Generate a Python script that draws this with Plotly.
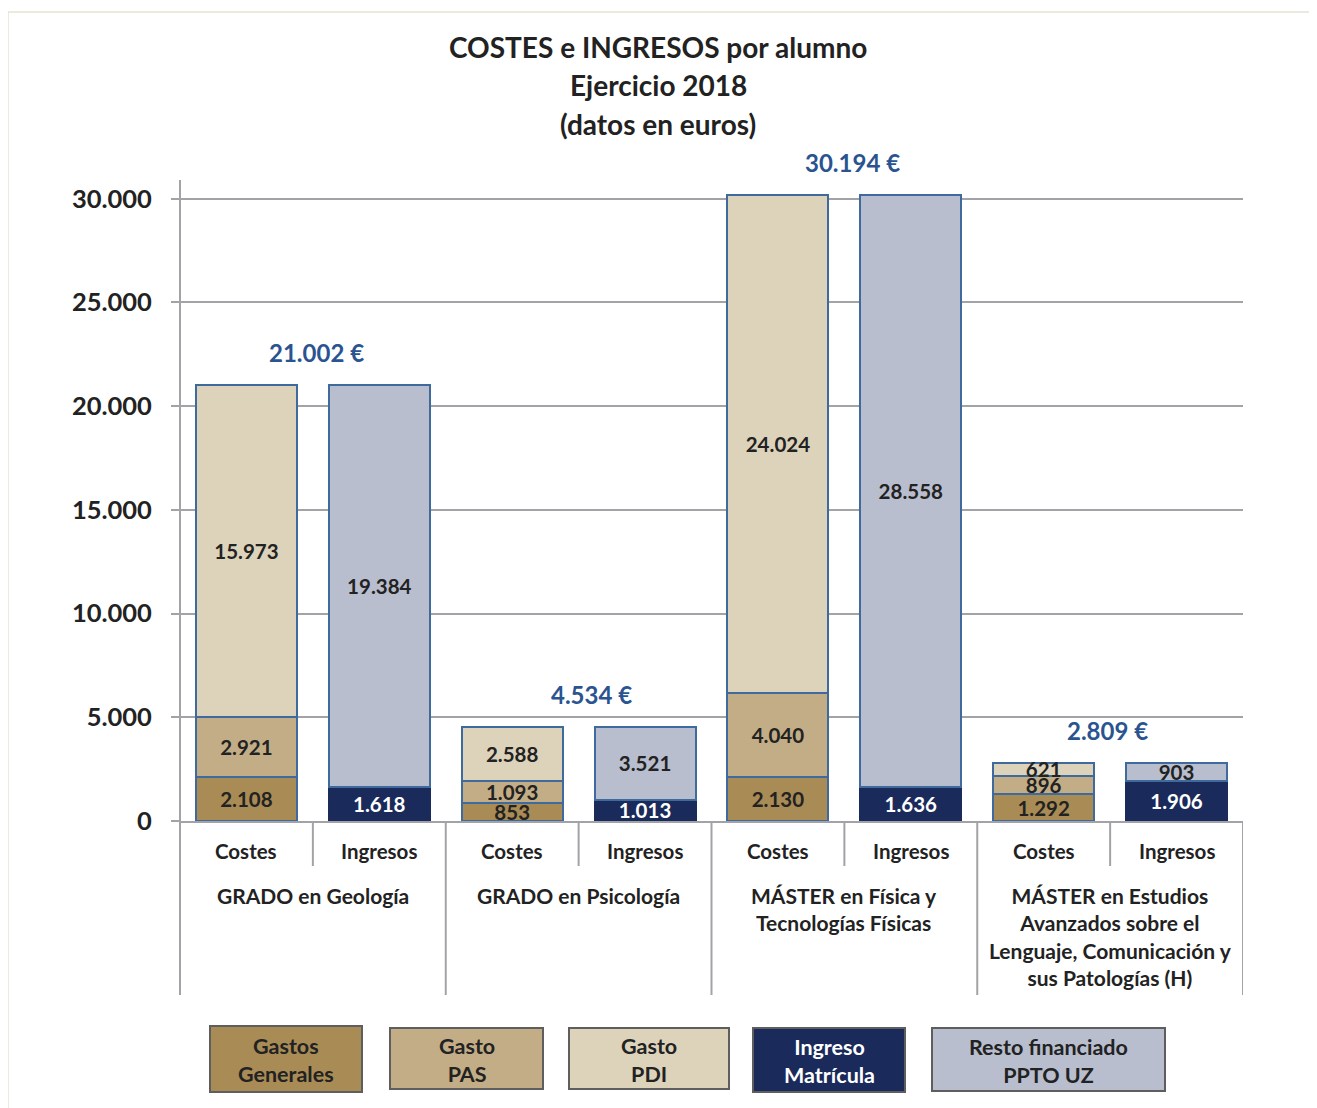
import plotly.graph_objects as go

# ---------------- data ----------------
groups = ["GRADO en Geología", "GRADO en Psicología",
          "MÁSTER en Física y<br>Tecnologías Físicas",
          "MÁSTER en Estudios<br>Avanzados sobre el<br>Lenguaje, Comunicación y<br>sus Patologías (H)"]
bar_labels = ["Costes", "Ingresos"] * 4
costes_x = [0, 2, 4, 6]
ingresos_x = [1, 3, 5, 7]
gastos_generales = [2108, 853, 2130, 1292]
gasto_pas = [2921, 1093, 4040, 896]
gasto_pdi = [15973, 2588, 24024, 621]
ingreso_matricula = [1618, 1013, 1636, 1906]
resto_ppto = [19384, 3521, 28558, 903]
totals = [21002, 4534, 30194, 2809]
y_ticks = [0, 5000, 10000, 15000, 20000, 25000, 30000]

FONT = "Lato"
DARK = "#222222"
C_GG = "#A98B55"
C_PAS = "#C3AD86"
C_PDI = "#DDD3BB"
C_MAT = "#1A2A5A"
C_RES = "#B8BECE"
EDGE = "#3E6A9E"
GRID = "#A3A3A7"
BLUE_TXT = "#2A5490"

OFF = 8  # page body offset
W, H = 1317, 1108
# plot-area geometry in screen pixels
PL, PR, PT, PB = 180, 1243, 180, 821


def px(xp):
    return (xp - PL) / (PR - PL)


def py(yp):
    return (PB - yp) / (PB - PT)


fig = go.Figure()


def add_bar(x, y, color, edge, txtcolor, name, size=20.5):
    fig.add_trace(go.Bar(
        x=x, y=y, name=name, width=0.76,
        marker=dict(color=color, line=dict(color=edge, width=2)),
        texttemplate="%{y:,d}", textposition="inside", insidetextanchor="middle",
        constraintext="none",
        textfont=dict(family=FONT, size=size, color=txtcolor, weight="bold"),
        hoverinfo="skip", showlegend=False))


add_bar(costes_x, gastos_generales, C_GG, EDGE, DARK, "Gastos Generales")
add_bar(costes_x, gasto_pas, C_PAS, EDGE, DARK, "Gasto PAS")
add_bar(costes_x, gasto_pdi, C_PDI, EDGE, DARK, "Gasto PDI")
add_bar(ingresos_x, ingreso_matricula, C_MAT, C_MAT, "white", "Ingreso Matrícula")
add_bar(ingresos_x, resto_ppto, C_RES, EDGE, DARK, "Resto financiado PPTO UZ")

annotations = []
# totals
tot_dx = [0.03, 0.1, 0.06, -0.02]
for i, t in enumerate(totals):
    s = f"{t:,}".replace(",", ".") + " €"
    annotations.append(dict(x=2 * i + 0.5 + tot_dx[i], y=t, xref="x", yref="y", text=s,
                            showarrow=False, yanchor="bottom", yshift=16,
                            font=dict(family=FONT, size=24, color=BLUE_TXT, weight="bold")))
# category labels
for i, lab in enumerate(bar_labels):
    annotations.append(dict(x=i, y=py(851), xref="x", yref="paper", text=lab,
                            showarrow=False, yanchor="middle",
                            font=dict(family=FONT, size=20.5, color=DARK, weight="bold")))
# group labels
for i, g in enumerate(groups):
    annotations.append(dict(x=2 * i + 0.5, y=py(881), xref="x", yref="paper", text=g,
                            showarrow=False, yanchor="top", align="center",
                            font=dict(family=FONT, size=21, color=DARK, weight="bold")))
# title
for txt, yp in [("COSTES e INGRESOS por alumno", 47), ("Ejercicio 2018", 85),
                ("(datos en euros)", 124)]:
    annotations.append(dict(x=px(658), xref="paper", y=py(yp), yref="paper", text=txt,
                            showarrow=False, yanchor="middle", xanchor="center",
                            font=dict(family=FONT, size=28, color=DARK, weight="bold")))

shapes = []
# outer border
shapes.append(dict(type="rect", xref="paper", yref="paper", x0=px(8), x1=px(1340),
                   y0=py(1130), y1=py(12), line=dict(color="#E6E2D2", width=1.5),
                   layer="below"))
# y-axis line extended down
shapes.append(dict(type="line", xref="paper", yref="paper", x0=0, x1=0,
                   y0=py(995), y1=1, line=dict(color=GRID, width=2)))
# dividers
for b in [1.5, 3.5, 5.5, 7.5]:
    shapes.append(dict(type="line", xref="x", yref="paper", x0=b, x1=b,
                       y0=py(995), y1=0, line=dict(color=GRID, width=2)))
for b in [0.5, 2.5, 4.5, 6.5]:
    shapes.append(dict(type="line", xref="x", yref="paper", x0=b, x1=b,
                       y0=py(866), y1=0, line=dict(color=GRID, width=2)))

# legend boxes
legend_items = [
    ("Gastos<br>Generales", C_GG, DARK, 210, 362, 1026, 1092),
    ("Gasto<br>PAS", C_PAS, DARK, 390, 543, 1028, 1089),
    ("Gasto<br>PDI", C_PDI, DARK, 569, 729, 1028, 1089),
    ("Ingreso<br>Matrícula", C_MAT, "white", 753, 905, 1028, 1092),
    ("Resto financiado<br>PPTO UZ", C_RES, DARK, 932, 1165, 1028, 1091),
]
for txt, fc, tc, x0, x1, y0, y1 in legend_items:
    shapes.append(dict(type="rect", xref="paper", yref="paper", x0=px(x0), x1=px(x1),
                       y0=py(y1), y1=py(y0), fillcolor=fc,
                       line=dict(color="#5E5E5E", width=2)))
    annotations.append(dict(x=px((x0 + x1) / 2), y=py((y0 + y1) / 2 + 1), xref="paper",
                            yref="paper", text=txt, showarrow=False,
                            xanchor="center", yanchor="middle", align="center",
                            font=dict(family=FONT, size=21.5, color=tc, weight="bold")))

fig.update_layout(
    width=W, height=H,
    margin=dict(l=PL - OFF, r=W + OFF - PR, t=PT - OFF, b=H + OFF - PB),
    paper_bgcolor="white", plot_bgcolor="white",
    barmode="stack", bargap=0.24,
    separators=",.",
    font=dict(family=FONT, color=DARK),
    annotations=annotations, shapes=shapes,
    showlegend=False,
)
fig.update_xaxes(range=[-0.5, 7.5], showticklabels=False, showgrid=False,
                 zeroline=False, showline=True, linecolor=GRID, linewidth=2,
                 ticks="", fixedrange=True)
fig.update_yaxes(range=[0, 30900], tickvals=y_ticks, tickformat=",d",
                 showgrid=True, gridcolor=GRID, gridwidth=2,
                 zeroline=False, showline=False,
                 ticks="outside", ticklen=8, tickcolor=GRID, tickwidth=2,
                 ticklabelstandoff=14,
                 tickfont=dict(family=FONT, size=25.5, color=DARK, weight="bold"))

fig.write_html("out.html")
